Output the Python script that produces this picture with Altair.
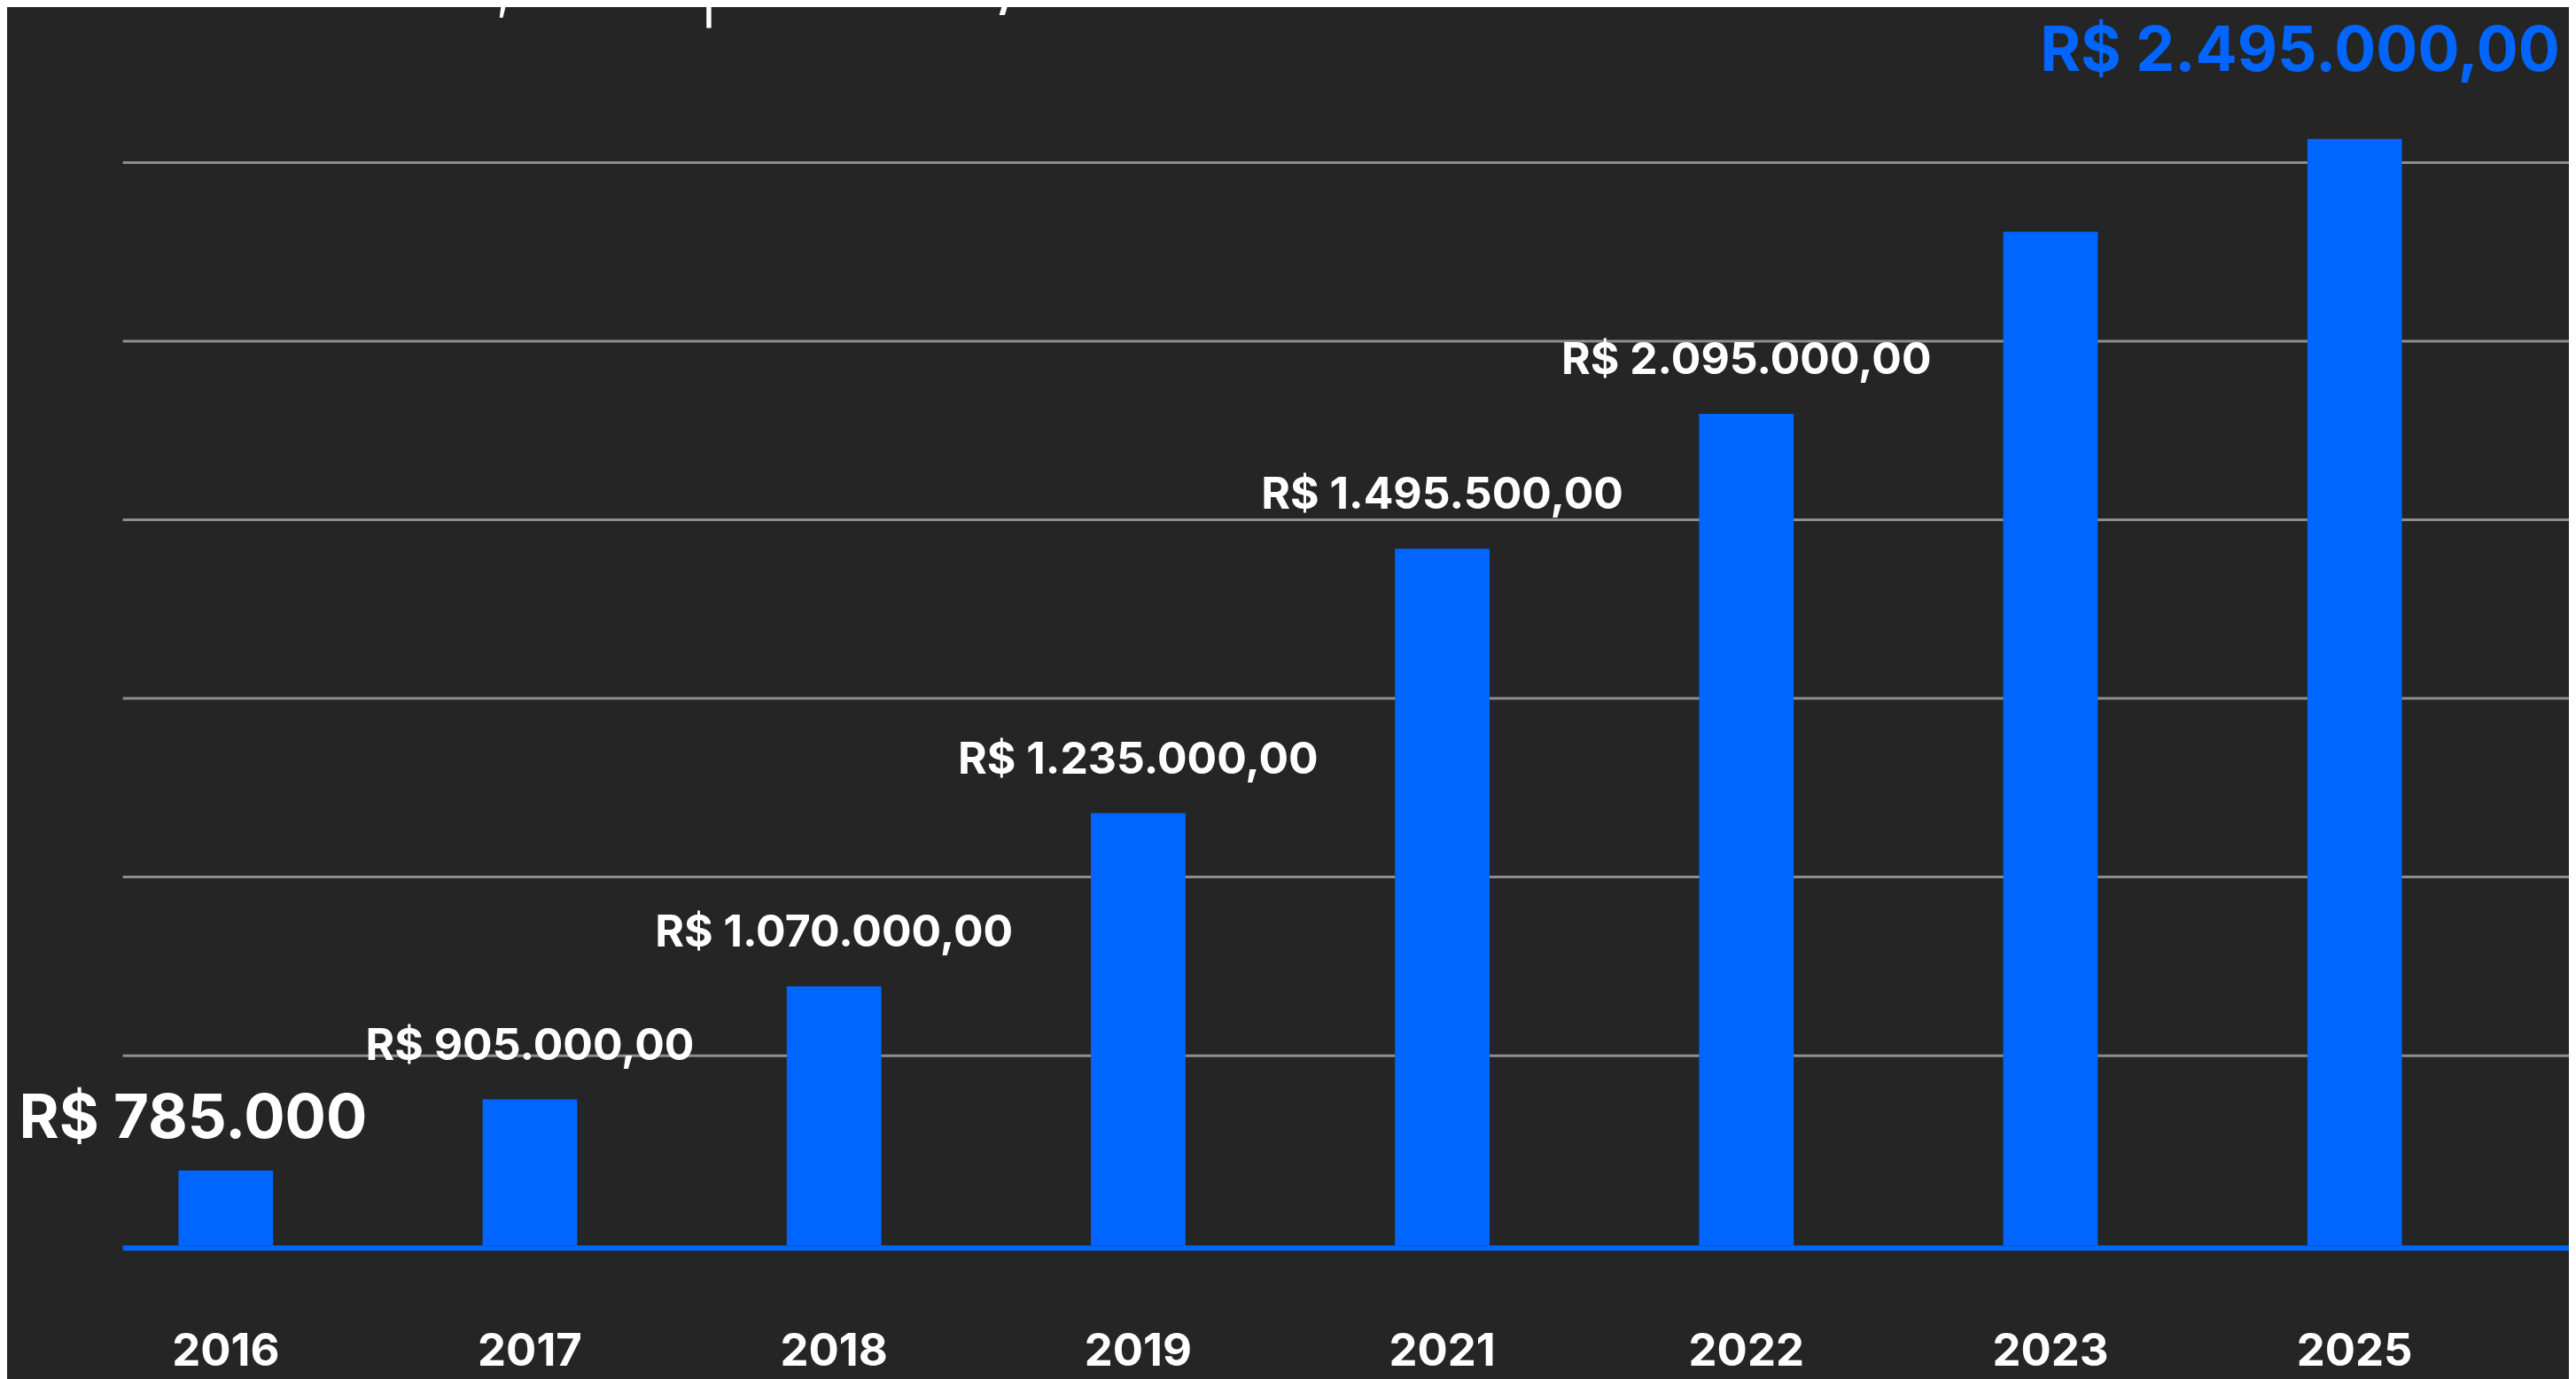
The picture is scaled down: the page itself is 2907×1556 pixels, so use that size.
import altair as alt
import pandas as pd

# --- data ---
years = ["2016", "2017", "2018", "2019", "2021", "2022", "2023", "2025"]
# visual bar heights (R$, on the chart's own scale)
bar_heights = [168000, 327000, 580000, 968000, 1560000, 1862000, 2270000, 2478000]
labels = ["R$ 785.000", "R$ 905.000,00", "R$ 1.070.000,00", "R$ 1.235.000,00",
          "R$ 1.495.500,00", "R$ 2.095.000,00", "", "R$ 2.495.000,00"]
grid_values = [425000, 825000, 1225000, 1625000, 2025000, 2425000]
title_text = "avenida, Itapema/SC"

BLUE = "#0066ff"
BG = "#252525"

df = pd.DataFrame({"year": years, "value": bar_heights, "label": labels})
grid_df = pd.DataFrame({"g": grid_values})
base_df = pd.DataFrame({"b": [0]})
title_df = pd.DataFrame({"t": [title_text]})

ys = alt.Scale(domain=[0, 2769000], nice=False, zero=True)
xs = alt.Scale(paddingInner=0.689, paddingOuter=0.183)
xenc = alt.X(
    "year:N", sort=years, scale=xs,
    axis=alt.Axis(title=None, domain=False, ticks=False, grid=False, labelAngle=0,
                  labelPadding=136, labelBaseline="alphabetic", labelFont="Inter",
                  labelFontWeight="bold", labelFontSize=51, labelColor="#ffffff"),
)

grid = alt.Chart(grid_df).mark_rule(color="#8e8e8e", strokeWidth=3).encode(
    y=alt.Y("g:Q", scale=ys, axis=None), x=alt.value(0), x2=alt.value(2768)
)

bars = alt.Chart(df).mark_bar(color=BLUE).encode(
    x=xenc, y=alt.Y("value:Q", scale=ys, axis=None)
)

baseline = alt.Chart(base_df).mark_rule(color=BLUE, strokeWidth=6, yOffset=3).encode(
    y=alt.Y("b:Q", scale=ys, axis=None), x=alt.value(0), x2=alt.value(2768)
)

mid = alt.Chart(df).transform_filter(
    "datum.year != '2016' && datum.year != '2025' && datum.label != ''"
).mark_text(font="Inter", fontWeight="bold", fontSize=50, color="#ffffff",
            align="center", baseline="alphabetic", dy=-45).encode(
    x=xenc, y=alt.Y("value:Q", scale=ys, axis=None), text="label:N"
)

first = alt.Chart(df).transform_filter("datum.year == '2016'").mark_text(
    font="Inter", fontWeight="bold", fontSize=69, color="#ffffff",
    align="center", baseline="alphabetic", dx=-37, dy=-37).encode(
    x=xenc, y=alt.Y("value:Q", scale=ys, axis=None), text="label:N"
)

last = alt.Chart(df).transform_filter("datum.year == '2025'").mark_text(
    font="Inter", fontWeight="bold", fontSize=70, color=BLUE,
    align="left", baseline="alphabetic", dx=-356, dy=-77).encode(
    x=xenc, y=alt.Y("value:Q", scale=ys, axis=None), text="label:N"
)

# title line, mostly above the top edge as in the reference
title = alt.Chart(title_df).mark_text(
    font="DejaVu Sans", fontWeight=200, fontSize=121, color="#ffffff",
    align="left", baseline="alphabetic").encode(
    x=alt.value(-69), y=alt.value(-4), text="t:N"
)

chart = alt.layer(grid, bars, baseline, mid, first, last, title).properties(
    width=2642,
    height=1399,
    padding={"left": 131, "top": 0, "right": 126, "bottom": 149},
    autosize=alt.AutoSizeParams(type="none"),
    background=BG,
).configure_view(stroke=None)

chart.save("out.html", embed_options={"renderer": "svg", "actions": False})
